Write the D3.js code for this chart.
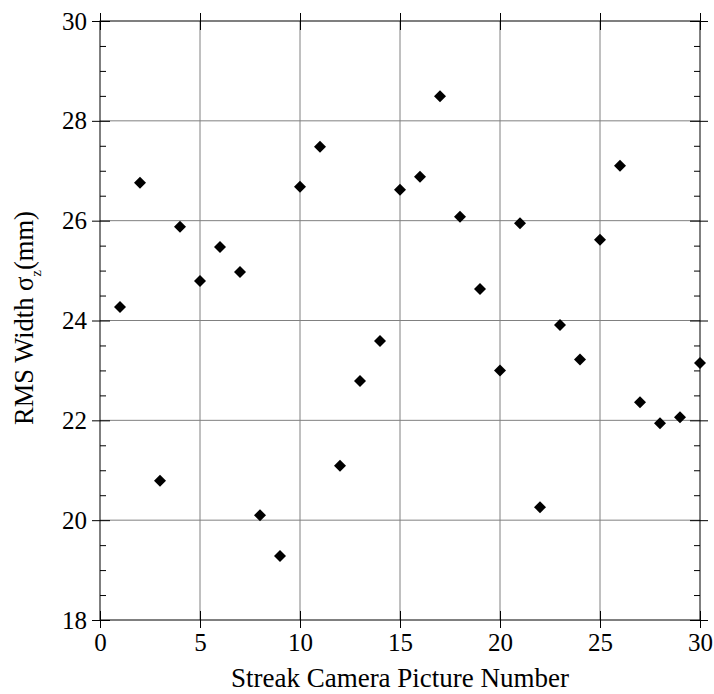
<!DOCTYPE html>
<html>
<head>
<meta charset="utf-8">
<script src="https://cdn.jsdelivr.net/npm/d3@7"></script>
</head>
<body style="margin:0">
<script>
const pictureNumbers = d3.range(1, 31);
const rmsWidth = [24.27, 26.76, 20.79, 25.88, 24.79, 25.47, 24.97, 20.10, 19.28, 26.68,
                  27.48, 21.09, 22.79, 23.59, 26.62, 26.88, 28.49, 26.08, 24.63, 23.00,
                  25.95, 20.26, 23.91, 23.22, 25.62, 27.10, 22.36, 21.94, 22.06, 23.15];
const xTicks = [0, 5, 10, 15, 20, 25, 30];
const yTicks = [18, 20, 22, 24, 26, 28, 30];
const yMinorTicks = d3.range(18, 30.01, 0.5).filter(v => v % 2 !== 0);

const data = pictureNumbers.map((n, i) => ({ x: n, y: rmsWidth[i] }));

const serif = '"Liberation Serif", "Times New Roman", serif';

const W = 714, H = 694;
const margin = { top: 21, left: 100, right: 14, bottom: 74 };
const width = W - margin.left - margin.right,
      height = H - margin.top - margin.bottom;

const svg = d3.select("body").append("svg")
  .attr("width", W).attr("height", H);

const g = svg.append("g")
  .attr("transform", `translate(${margin.left},${margin.top})`);

const x = d3.scaleLinear().domain([0, 30]).range([0, width]);
const y = d3.scaleLinear().domain([18, 30]).range([height, 0]);

// grid
g.append("g").selectAll("line").data(xTicks.slice(1, -1)).enter().append("line")
  .attr("x1", d => x(d)).attr("x2", d => x(d))
  .attr("y1", 0).attr("y2", height)
  .attr("stroke", "#808080").attr("stroke-width", 1);
g.append("g").selectAll("line").data(yTicks.slice(1, -1)).enter().append("line")
  .attr("y1", d => y(d)).attr("y2", d => y(d))
  .attr("x1", 0).attr("x2", width)
  .attr("stroke", "#808080").attr("stroke-width", 1);

// axes
function styleAxis(sel) {
  sel.attr("font-family", null).attr("font-size", null);
  sel.select(".domain").remove();
  sel.selectAll(".tick line").attr("stroke", "#000");
  sel.selectAll(".tick text")
    .style("font-family", serif)
    .style("font-size", "25px")
    .attr("fill", "#000");
}

g.append("g")
  .attr("transform", `translate(0,${height})`)
  .call(d3.axisBottom(x).tickValues(xTicks).tickSize(0).tickPadding(13))
  .call(styleAxis)
  .call(a => a.selectAll(".tick line").attr("y1", -9).attr("y2", 8));

g.append("g")
  .call(d3.axisTop(x).tickValues(xTicks).tickSize(0).tickFormat(""))
  .call(styleAxis)
  .call(a => a.selectAll(".tick line").attr("y1", -8).attr("y2", 9));

g.append("g")
  .call(d3.axisLeft(y).tickValues(yTicks).tickSize(0).tickPadding(13))
  .call(styleAxis)
  .call(a => a.selectAll(".tick line").attr("x1", -8).attr("x2", 10));

g.append("g")
  .call(d3.axisLeft(y).tickValues(yMinorTicks).tickSize(-6).tickFormat(""))
  .call(styleAxis);

g.append("g")
  .attr("transform", `translate(${width},0)`)
  .call(d3.axisRight(y).tickValues(yTicks).tickSize(0).tickFormat(""))
  .call(styleAxis)
  .call(a => a.selectAll(".tick line").attr("x1", -10).attr("x2", 8));

g.append("g")
  .attr("transform", `translate(${width},0)`)
  .call(d3.axisRight(y).tickValues(yMinorTicks).tickSize(-6).tickFormat(""))
  .call(styleAxis);

// frame
g.append("rect")
  .attr("width", width).attr("height", height)
  .attr("fill", "none").attr("stroke", "#000").attr("stroke-width", 1);

// points
g.selectAll(".pt").data(data).enter().append("path")
  .attr("class", "pt")
  .attr("d", d3.symbol(d3.symbolSquare, 72))
  .attr("transform", d => `translate(${x(d.x)},${y(d.y)}) rotate(45)`)
  .attr("fill", "#000");

// titles
svg.append("text")
  .attr("x", margin.left + width / 2)
  .attr("y", 687)
  .attr("text-anchor", "middle")
  .style("font-family", serif)
  .style("font-size", "27px")
  .text("Streak Camera Picture Number");

const yt = svg.append("text")
  .attr("transform", `translate(33,318) rotate(-90)`)
  .attr("text-anchor", "middle")
  .style("font-family", serif)
  .style("font-size", "26.5px");
yt.append("tspan").text("RMS Width σ");
yt.append("tspan").attr("dy", 8).style("font-size", "15px").text("z");
yt.append("tspan").attr("dy", -8).text("(mm)");
</script>
</body>
</html>
